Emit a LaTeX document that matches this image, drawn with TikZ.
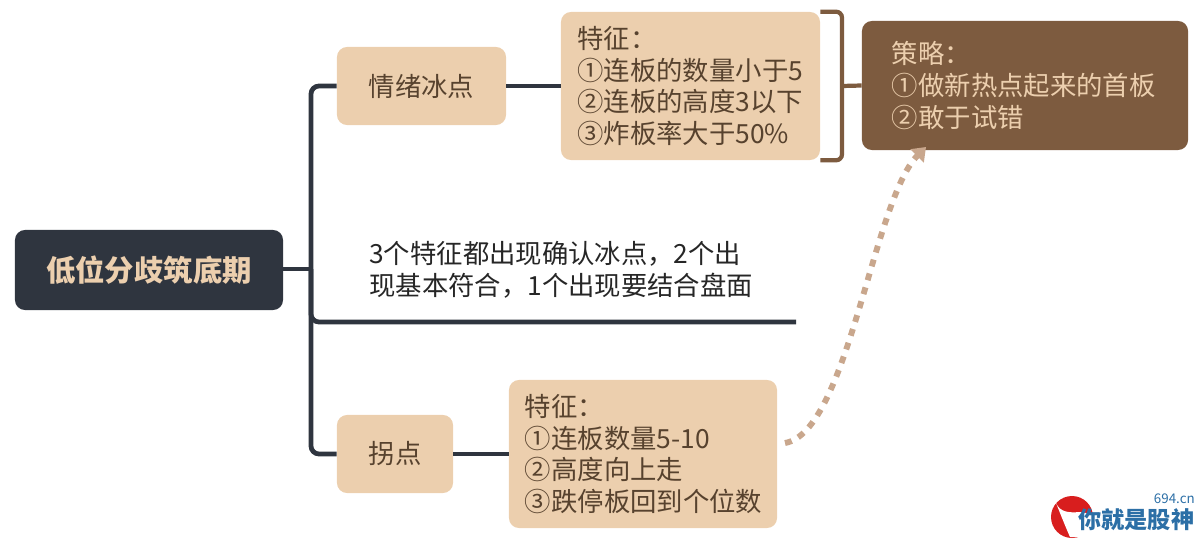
\documentclass[tikz,border=0pt]{standalone}
\usepackage{fontspec}
\setmainfont{Noto Sans CJK SC}
\usepackage{xcolor}
\usetikzlibrary{arrows.meta}
\definecolor{rootfill}{HTML}{2F353F}
\definecolor{peach}{HTML}{ECCFAE}
\definecolor{inkbrown}{HTML}{57422E}
\definecolor{barkbrown}{HTML}{7D5B3F}
\definecolor{dusttan}{HTML}{C9A78D}
\definecolor{markblue}{HTML}{2C6FA6}
\definecolor{markred}{HTML}{D81E1E}
\tikzset{
  rootbox/.style={fill=rootfill,text=peach,rounded corners=2.5mm,font=\fontsize{20.9}{24}\selectfont\bfseries,minimum width=6.7cm,minimum height=2cm,inner sep=0},
  tagbox/.style={fill=peach,text=inkbrown,rounded corners=2.5mm,font=\fontsize{18.75}{22.5}\selectfont,minimum height=1.95cm,inner sep=0},
  listbox/.style={fill=peach,text=inkbrown,rounded corners=2.5mm,font=\fontsize{18.75}{22.5}\selectfont,align=left,minimum height=3.7cm,inner sep=0},
  planbox/.style={fill=barkbrown,text=peach,rounded corners=2.5mm,font=\fontsize{18.75}{22.5}\selectfont,align=left,minimum height=3.225cm,inner sep=0},
  limb/.style={draw=rootfill,line width=3.4pt,rounded corners=2mm},
  barklimb/.style={draw=barkbrown,line width=3pt,rounded corners=1.5mm},
}
\begin{document}
\begin{tikzpicture}[x=.025cm,y=-.025cm]
  \useasboundingbox (0,0) rectangle (1200,538);

  % Boxes
  \node[rootbox] (root) at (149,270) {\raisebox{-1.4pt}{低位分歧筑底期}};
  \node[tagbox,minimum width=4.225cm] (cold) at (421.5,86) {情绪冰点};
  \node[listbox,minimum width=6.475cm,text width=5.65cm] (coldlist) at (690.5,86) {特征：\\①连板的数量小于5\\②连板的高度3以下\\③炸板率大于50\%};
  \node[planbox,minimum width=8.15cm,text width=6.65cm] (plan) at (1025,85.5) {策略：\\①做新热点起来的首板\\②敢于试错};
  \node[tagbox,minimum width=2.9cm] (turn) at (395,454) {拐点};
  \node[listbox,minimum width=6.7cm,text width=5.9cm] (turnlist) at (643,454) {特征：\\①连板数量5-10\\②高度向上走\\③跌停板回到个位数};

  % Middle note
  \node[anchor=west,text=black!85,font=\fontsize{18.75}{22.5}\selectfont,align=left,inner sep=0] (note) at (369,270) {3个特征都出现确认冰点，2个出\\现基本符合，1个出现要结合盘面};
  \coordinate (trunk) at (311,269);
  \coordinate (noteend) at (796,322);

  % Connectors
  \draw[limb] (root.east |- trunk) -- (trunk);
  \draw[limb] (cold.west) -| (trunk) |- (turn.west);
  \draw[limb] (trunk) |- (noteend);
  \draw[limb] (cold.east) -- (coldlist.west);
  \draw[limb] (turn.east) -- (turnlist.west);

  % Bracket
  \coordinate (brace) at (842,86);
  \draw[barklimb] (coldlist.north east) -- (brace |- coldlist.north) -- (brace |- coldlist.south) -- (coldlist.south east);
  \draw[barklimb] (brace) -- (plan.west);

  % Dotted arrow
  \coordinate (turnout) at (785,443);
  \draw[draw=dusttan,line width=4.2pt,dash pattern=on 5pt off 5.3pt,-{Triangle[length=9pt,width=13pt]}] (turnout) .. controls (848,432) and (873,200) .. (926,147);

  % Site mark
  \fill[markred] (1072,517) circle (21);
  \fill[white] (1056,503) .. controls (1060,512) and (1068,513) .. (1080,512) -- (1092,514) -- (1092,537) -- (1070,537) .. controls (1066,528) and (1062,518) .. (1056,503);
  \node[anchor=west,text=markblue,font=\fontsize{16.5}{16.5}\selectfont\bfseries,inner sep=0] (markname) at (1078,520) {你就是股神};
  \node[anchor=east,text=markblue,font=\fontsize{9.5}{10}\selectfont,inner sep=0] (markurl) at (1195,499) {694.cn};
\end{tikzpicture}
\end{document}
